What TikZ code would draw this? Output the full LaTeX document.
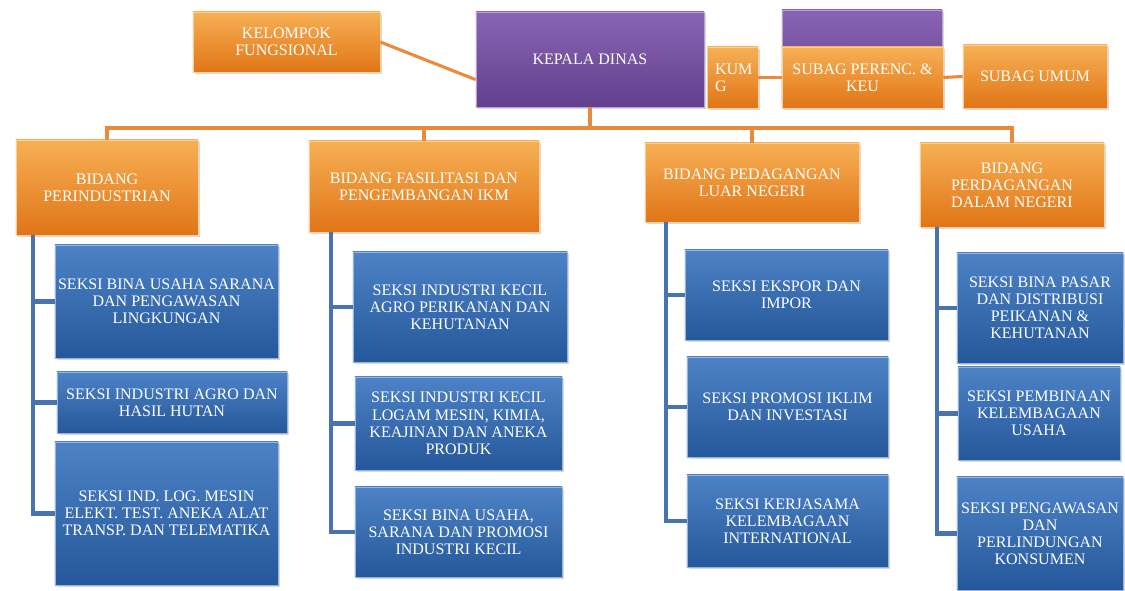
\documentclass[tikz,border=0pt]{standalone}
\usepackage{fontspec}
\setmainfont{Liberation Serif}
\usetikzlibrary{shadows}

\definecolor{orgtop}{HTML}{F7B055}
\definecolor{orgbot}{HTML}{E07516}
\definecolor{orgline}{HTML}{EA8A3C}
\definecolor{purtop}{HTML}{8A64B4}
\definecolor{purbot}{HTML}{62408E}
\definecolor{blutop}{HTML}{4D82C6}
\definecolor{blubot}{HTML}{24589A}
\definecolor{bluline}{HTML}{4873B0}

\tikzset{
  unit/.style={rectangle, align=center, text=white, inner sep=2pt,
    font=\fontsize{11.4}{12.2}\selectfont,
    drop shadow={opacity=.3, shadow xshift=1.5pt, shadow yshift=-1.5pt}},
  orgbox/.style={unit, top color=orgtop, bottom color=orgbot, draw=orgtop!60!white},
  purbox/.style={unit, top color=purtop, bottom color=purbot, draw=purtop!60!white},
  blubox/.style={unit, top color=blutop, bottom color=blubot, draw=blutop!60!white},
  orglink/.style={orgline, line width=2.2pt},
  blulink/.style={bluline, line width=3pt},
}

\begin{document}
\begin{tikzpicture}[x=0.025cm,y=-0.025cm]
\useasboundingbox (0,0) rectangle (1125,591);
% top row
\node[orgbox, minimum width=4.675cm, minimum height=1.5cm] (kf) at (286.5,42) {KELOMPOK\\FUNGSIONAL};
\node[orgbox, minimum width=1.275cm, minimum height=1.525cm, text width=.875cm, align=left, inner xsep=.2cm] (hk) at (732.5,77.5) {KUM\\G};
\node[purbox, minimum width=5.7cm, minimum height=2.375cm] (kd) at (590,59.5) {KEPALA DINAS};
\node[purbox, minimum width=4cm, minimum height=2.25cm] (pb) at (862,55) {};
\node[orgbox, minimum width=4.025cm, minimum height=1.525cm] (spk) at (862.5,77.5) {SUBAG PERENC. \&\\KEU};
\node[orgbox, minimum width=3.6cm, minimum height=1.575cm] (su) at (1035,76.5) {SUBAG UMUM};
% bidang
\node[orgbox, minimum width=4.55cm, minimum height=2.375cm] (b1) at (107,187.5) {BIDANG\\PERINDUSTRIAN};
\node[orgbox, minimum width=5.75cm, minimum height=2.275cm] (b2) at (424,186.5) {BIDANG FASILITASI DAN\\PENGEMBANGAN IKM};
\node[orgbox, minimum width=5.35cm, minimum height=1.975cm] (b3) at (752,182.5) {BIDANG PEDAGANGAN\\LUAR NEGERI};
\node[orgbox, minimum width=4.6cm, minimum height=2.1cm] (b4) at (1012,185) {BIDANG\\PERDAGANGAN\\DALAM NEGERI};
% seksi
\node[blubox, minimum width=5.575cm, minimum height=2.825cm] (s11) at (166.5,301.5) {SEKSI BINA USAHA SARANA\\DAN PENGAWASAN\\LINGKUNGAN};
\node[blubox, minimum width=5.75cm, minimum height=1.525cm] (s12) at (172,402.5) {SEKSI INDUSTRI AGRO DAN\\HASIL HUTAN};
\node[blubox, minimum width=5.575cm, minimum height=3.575cm] (s13) at (166.5,513.5) {SEKSI IND. LOG. MESIN\\ELEKT. TEST. ANEKA ALAT\\TRANSP. DAN TELEMATIKA};
\node[blubox, minimum width=5.35cm, minimum height=2.75cm] (s21) at (460,307) {SEKSI INDUSTRI KECIL\\AGRO PERIKANAN DAN\\KEHUTANAN};
\node[blubox, minimum width=5.175cm, minimum height=2.325cm] (s22) at (458.5,423.5) {SEKSI INDUSTRI KECIL\\LOGAM MESIN, KIMIA,\\KEAJINAN DAN ANEKA\\PRODUK};
\node[blubox, minimum width=5.175cm, minimum height=2.25cm] (s23) at (458.5,532) {SEKSI BINA USAHA,\\SARANA DAN PROMOSI\\INDUSTRI KECIL};
\node[blubox, minimum width=5.075cm, minimum height=2.25cm] (s31) at (786.5,295) {SEKSI EKSPOR DAN\\IMPOR};
\node[blubox, minimum width=5.025cm, minimum height=2.5cm] (s32) at (787.5,407) {SEKSI PROMOSI IKLIM\\DAN INVESTASI};
\node[blubox, minimum width=5.025cm, minimum height=2.3cm] (s33) at (787.5,521) {SEKSI KERJASAMA\\KELEMBAGAAN\\INTERNATIONAL};
\node[blubox, minimum width=4.15cm, minimum height=2.75cm] (s41) at (1040,308) {SEKSI BINA PASAR\\DAN DISTRIBUSI\\PEIKANAN \&\\KEHUTANAN};
\node[blubox, minimum width=4.05cm, minimum height=2.325cm] (s42) at (1039,413.5) {SEKSI PEMBINAAN\\KELEMBAGAAN\\USAHA};
\node[blubox, minimum width=4.15cm, minimum height=2.825cm] (s43) at (1040,533.5) {SEKSI PENGAWASAN\\DAN\\PERLINDUNGAN\\KONSUMEN};
% orange links
\coordinate (bar) at (590,128);
\draw[orglink] (kf.east) -- (kd.190);
\draw[orglink] (hk.east) -- (spk.west);
\draw[orglink] (spk.east) -- (su.west);
\draw[orglink] (kd.south) -- (bar);
\draw[orglink] (b1.north) |- (bar);
\draw[orglink] (b4.north) |- (bar);
\draw[orglink] (b2.north) -- (b2.north |- bar);
\draw[orglink] (b3.north) -- (b3.north |- bar);
% blue links
\coordinate (t1) at ([xshift=.425cm]b1.south west);
\coordinate (t2) at ([xshift=.55cm]b2.south west);
\coordinate (t3) at ([xshift=.525cm]b3.south west);
\coordinate (t4) at ([xshift=.425cm]b4.south west);
\foreach \c in {1,2,3,4}
  \foreach \r in {1,2,3}
    \draw[blulink] (t\c) |- (s\c\r.west);
\end{tikzpicture}
\end{document}
